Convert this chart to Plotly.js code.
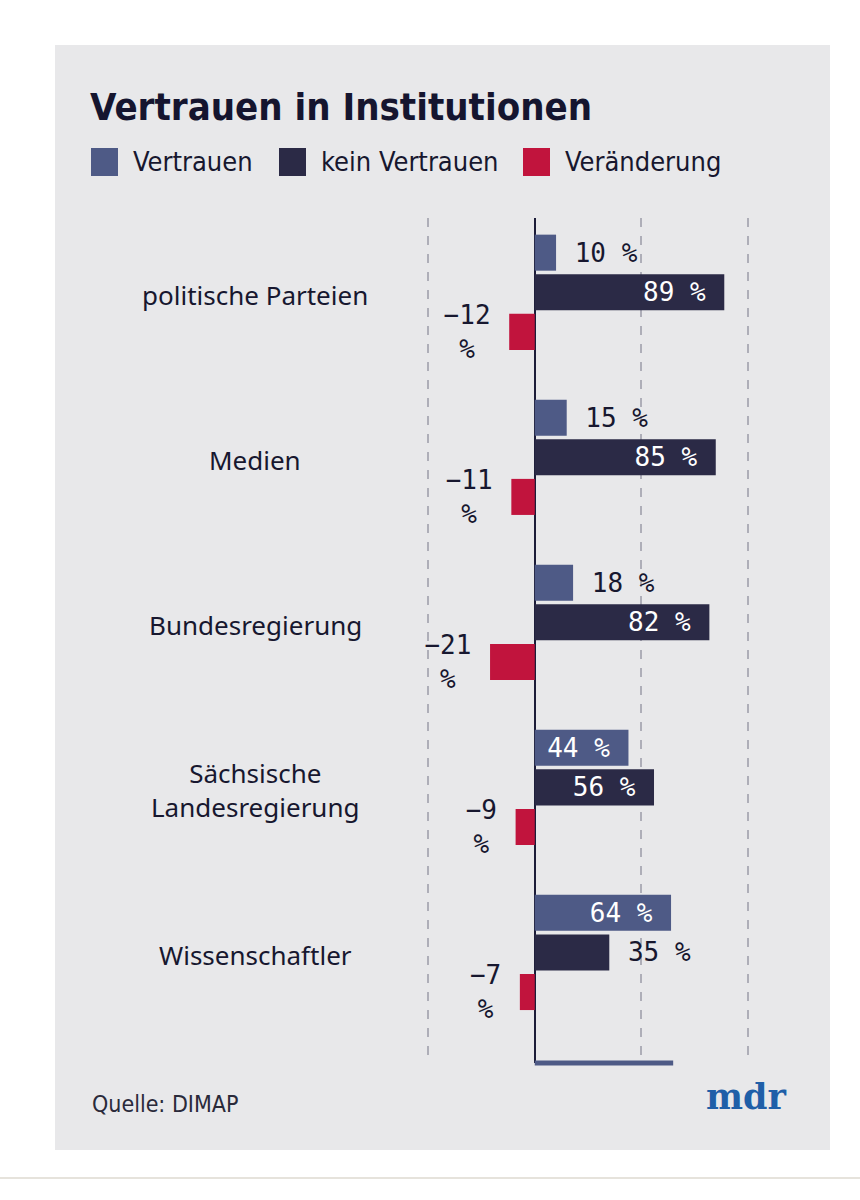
<!DOCTYPE html>
<html>
<head>
<meta charset="utf-8">
<script src="https://cdn.plot.ly/plotly-3.0.1.min.js"></script>
<style>html,body{margin:0;padding:0;background:#fff;}#chart{width:860px;height:1200px;}</style>
</head>
<body>
<div id="chart"></div>
<script>
// ---- data ----
const categories = ["politische Parteien", "Medien", "Bundesregierung", "Sächsische<br>Landesregierung", "Wissenschaftler"];
const vertrauen = [10, 15, 18, 44, 64];
const keinVertrauen = [89, 85, 82, 56, 35];
const veraenderung = [-12, -11, -21, -9, -7];
const vertrauenPos = ["outside", "outside", "outside", "inside", "inside"];
const keinPos = ["inside", "inside", "inside", "inside", "outside"];
const seriesNames = ["Vertrauen", "kein Vertrauen", "Veränderung"];
const seriesColors = ["#4e5a86", "#2b2a46", "#c1143d"];
const xTicks = [-50, 0, 50, 100];

// ---- layout helpers (pixel -> paper) ----
const W = 860, H = 1200;
const M = {l: 407, r: 91, t: 218, b: 137};
const PW = W - M.l - M.r, PH = H - M.t - M.b;
const px = x => (x - M.l) / PW;
const py = y => (H - M.b - y) / PH;

const dark = "#17172f";
const NB = "\u00a0";
const fmtPos = (v, i, pos) => pos[i] === "inside" ? v + " %" + NB : NB + v + " %";
const fmtNeg = v => (v < 0 ? "\u2212" + Math.abs(v) : String(v)) + NB + "<br>%" + NB;

const mono = "DejaVu Sans Mono, Liberation Mono, monospace";
const sans = "Noto Sans, Open Sans, sans-serif";
const cond = "DejaVu Sans Condensed, Liberation Sans Narrow, sans-serif";

const ycat = categories.map((c, i) => i);

function barTrace(name, vals, color, pos, texts) {
  return {
    type: "bar", orientation: "h", name: name,
    x: vals, y: ycat,
    marker: {color: color, line: {width: 0}},
    text: texts, textposition: pos,
    textangle: 0, constraintext: "none", cliponaxis: false,
    insidetextanchor: "end",
    insidetextfont: {family: mono, size: 26, color: "#ffffff"},
    outsidetextfont: {family: mono, size: 26, color: dark},
    hoverinfo: "none", showlegend: false
  };
}

const data = [
  barTrace(seriesNames[0], vertrauen, seriesColors[0], vertrauenPos, vertrauen.map((v, i) => fmtPos(v, i, vertrauenPos))),
  barTrace(seriesNames[1], keinVertrauen, seriesColors[1], keinPos, keinVertrauen.map((v, i) => fmtPos(v, i, keinPos))),
  barTrace(seriesNames[2], veraenderung, seriesColors[2], "outside", veraenderung.map(fmtNeg))
];

const annotations = categories.map((c, i) => ({
  text: c, xref: "paper", yref: "y", x: px(255), y: i, yshift: -3,
  xanchor: "center", yanchor: "middle", showarrow: false, align: "center",
  font: {family: sans, size: 26, color: dark}
}));
annotations.push({
  text: "Quelle: DIMAP", xref: "paper", yref: "paper", x: px(90), y: py(1104),
  xanchor: "left", yanchor: "middle", showarrow: false,
  font: {family: cond, size: 23, color: "#2a2a3a"}
});
annotations.push({
  text: "<b>mdr</b>", xref: "paper", yref: "paper", x: px(746), y: py(1096),
  xanchor: "center", yanchor: "middle", showarrow: false,
  font: {family: "DejaVu Serif, Liberation Serif, serif", size: 35, color: "#1f5fa8"}
});

// legend (custom, tall swatches)
const legendBoxes = [91, 279, 523];
const shapes = [
  {type: "rect", xref: "paper", yref: "paper", x0: px(55), x1: px(830), y0: py(1150), y1: py(45),
   fillcolor: "#e8e8ea", line: {width: 0}, layer: "below"},
  {type: "line", xref: "paper", yref: "paper", x0: px(0), x1: px(860), y0: py(1178), y1: py(1178),
   line: {color: "#e6e3dc", width: 2}, layer: "below"},
  {type: "line", xref: "x", yref: "paper", x0: 0, x1: 65, y0: py(1063), y1: py(1063),
   line: {color: "#4e5a86", width: 5}}
];
seriesNames.forEach((n, i) => {
  const bx = legendBoxes[i];
  shapes.push({type: "rect", xref: "paper", yref: "paper", x0: px(bx), x1: px(bx + 27), y0: py(176), y1: py(148),
    fillcolor: seriesColors[i], line: {width: 0}});
  annotations.push({text: n, xref: "paper", yref: "paper", x: px(bx + 40), y: py(162),
    xanchor: "left", yanchor: "middle", showarrow: false,
    font: {family: cond, size: 27, color: dark}});
});

const layout = {
  width: W, height: H,
  margin: M,
  paper_bgcolor: "#ffffff",
  plot_bgcolor: "rgba(0,0,0,0)",
  title: {
    text: "<b>Vertrauen in Institutionen</b>",
    xref: "container", x: 90 / W, xanchor: "left",
    yref: "container", y: 1 - 107 / H, yanchor: "middle",
    font: {family: cond, size: 38, color: "#15152f"}
  },
  showlegend: false,
  barmode: "group", bargap: 0.28, bargroupgap: 0.09,
  xaxis: {
    range: [-60, 110], tickvals: xTicks, showticklabels: false,
    showgrid: true, gridcolor: "#aeaeb8", gridwidth: 2, griddash: "dash",
    zeroline: true, zerolinecolor: "#1c1c38", zerolinewidth: 2,
    showline: false, fixedrange: true
  },
  yaxis: {
    range: [4.67, -0.45], showticklabels: false, showgrid: false,
    zeroline: false, showline: false, fixedrange: true
  },
  annotations: annotations,
  shapes: shapes
};

Plotly.newPlot("chart", data, layout, {staticPlot: true, displayModeBar: false});
</script>
</body>
</html>
